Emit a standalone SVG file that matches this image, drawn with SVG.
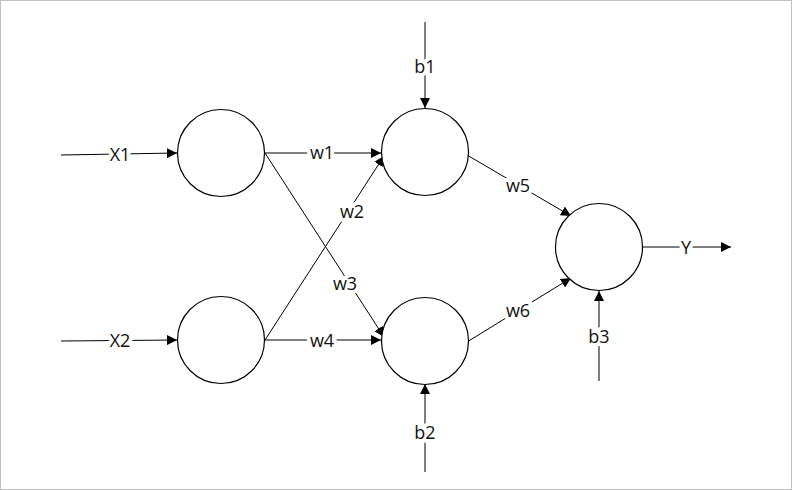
<svg xmlns="http://www.w3.org/2000/svg" width="792" height="490" viewBox="0 0 792 490">
<defs>
<marker id="arr" viewBox="0 0 10 10" refX="10" refY="5" markerWidth="10" markerHeight="10" markerUnits="userSpaceOnUse" orient="auto">
<path d="M0,0 L10,5 L0,10 Z" fill="#000"/>
</marker>
</defs>
<style>
.node{fill:#fff;stroke:#000;stroke-width:1.2}
.edge{stroke:#000;stroke-width:1;fill:none;marker-end:url(#arr)}
.lbl{font-family:"Open Sans","Noto Sans",sans-serif;font-size:18px;fill:#111;text-anchor:middle;dominant-baseline:central;stroke:#fff;stroke-width:8;paint-order:stroke;stroke-linejoin:round}
</style>
<rect x="0.5" y="0.5" width="791" height="489" fill="#fff" stroke="#c0c0c0" stroke-width="1"/>
<g id="connectors">
<line class="edge" x1="61" y1="155" x2="177" y2="153"/>
<line class="edge" x1="61" y1="341" x2="177" y2="340"/>
<line class="edge" x1="265" y1="153" x2="381" y2="153"/>
<line class="edge" x1="265" y1="340" x2="381" y2="340"/>
<line class="edge" x1="265" y1="340" x2="384" y2="156"/>
<line class="edge" x1="265" y1="153" x2="384" y2="337"/>
<line class="edge" x1="467" y1="155" x2="571" y2="216"/>
<line class="edge" x1="467" y1="342" x2="571" y2="278"/>
<line class="edge" x1="643" y1="247" x2="731" y2="247"/>
<line class="edge" x1="425" y1="22" x2="425" y2="108"/>
<line class="edge" x1="425" y1="472" x2="425" y2="384"/>
<line class="edge" x1="599" y1="381" x2="599" y2="291"/>
<text class="lbl" x="120" y="154">X1</text>
<text class="lbl" x="120" y="340">X2</text>
<text class="lbl" x="322" y="152">w1</text>
<text class="lbl" x="322" y="340">w4</text>
<text class="lbl" x="352" y="211">w2</text>
<text class="lbl" x="345" y="283">w3</text>
<text class="lbl" x="518" y="185">w5</text>
<text class="lbl" x="518" y="310">w6</text>
<text class="lbl" x="686" y="247">Y</text>
<text class="lbl" x="425" y="66">b1</text>
<text class="lbl" x="425" y="432">b2</text>
<text class="lbl" x="599" y="336">b3</text>
</g>
<g id="x1node"><circle class="node" cx="221" cy="153" r="43.5"/></g>
<g id="x2node"><circle class="node" cx="221" cy="340" r="43.5"/></g>
<g id="h1"><circle class="node" cx="425" cy="152" r="43.5"/></g>
<g id="h2"><circle class="node" cx="425" cy="341" r="43.5"/></g>
<g id="out"><circle class="node" cx="599" cy="247" r="43.5"/></g>
</svg>
